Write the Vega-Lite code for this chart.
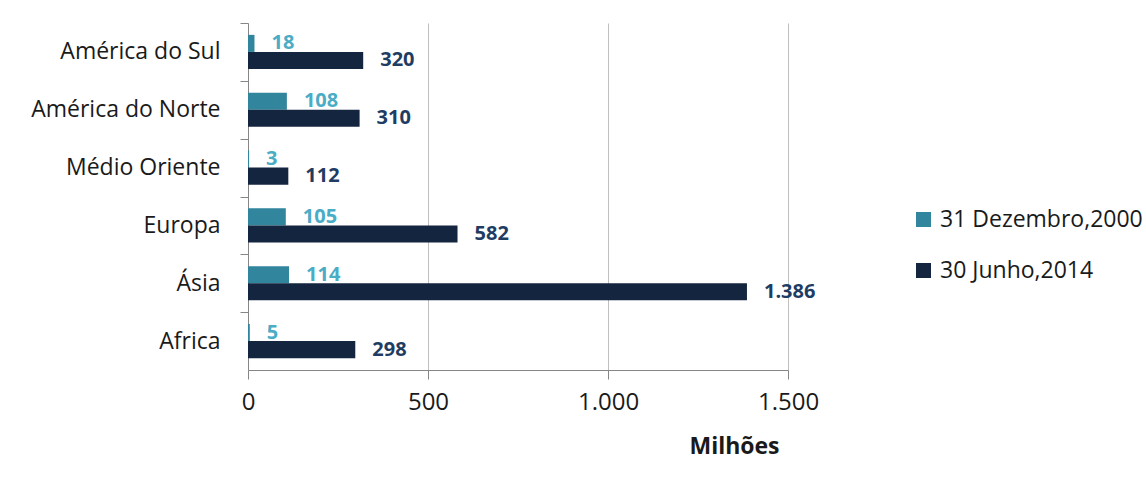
{
  "$schema": "https://vega.github.io/schema/vega-lite/v6.json",
  "width": 540,
  "height": 347,
  "autosize": {"type": "none"},
  "padding": {"left": 248, "top": 23, "right": 358, "bottom": 122},
  "background": "white",
  "config": {
    "locale": {"number": {"decimal": ",", "thousands": ".", "grouping": [3], "currency": ["", ""]}},
    "view": {"stroke": null},
    "font": "Open Sans"
  },
  "data": {
    "values": [
      {"regiao": "América do Sul", "periodo": "31 Dezembro,2000", "valor": 18},
      {"regiao": "América do Sul", "periodo": "30 Junho,2014", "valor": 320},
      {"regiao": "América do Norte", "periodo": "31 Dezembro,2000", "valor": 108},
      {"regiao": "América do Norte", "periodo": "30 Junho,2014", "valor": 310},
      {"regiao": "Médio Oriente", "periodo": "31 Dezembro,2000", "valor": 3},
      {"regiao": "Médio Oriente", "periodo": "30 Junho,2014", "valor": 112},
      {"regiao": "Europa", "periodo": "31 Dezembro,2000", "valor": 105},
      {"regiao": "Europa", "periodo": "30 Junho,2014", "valor": 582},
      {"regiao": "Ásia", "periodo": "31 Dezembro,2000", "valor": 114},
      {"regiao": "Ásia", "periodo": "30 Junho,2014", "valor": 1386},
      {"regiao": "Africa", "periodo": "31 Dezembro,2000", "valor": 5},
      {"regiao": "Africa", "periodo": "30 Junho,2014", "valor": 298}
    ]
  },
  "encoding": {
    "y": {
      "field": "regiao",
      "type": "nominal",
      "sort": ["América do Sul", "América do Norte", "Médio Oriente", "Europa", "Ásia", "Africa"],
      "scale": {"paddingInner": 0.41, "paddingOuter": 0.205},
      "axis": {
        "title": null,
        "domainColor": "#868686",
        "tickColor": "#868686",
        "tickSize": 8,
        "tickOffset": -28.9,
        "labelOffset": 28.9,
        "labelPadding": 20,
        "labelFontSize": 23,
        "labelColor": "#1a1a1a",
        "labelFont": "Open Sans",
        "labelLimit": 0
      }
    },
    "yOffset": {
      "field": "periodo",
      "type": "nominal",
      "sort": ["31 Dezembro,2000", "30 Junho,2014"]
    },
    "x": {
      "field": "valor",
      "type": "quantitative",
      "scale": {"domain": [0, 1500], "nice": false},
      "axis": {
        "values": [0, 500, 1000, 1500],
        "format": ",d",
        "grid": true,
        "gridColor": "#BFBFBF",
        "domainColor": "#868686",
        "tickColor": "#868686",
        "tickSize": 9,
        "labelFlush": false,
        "labelPadding": 11,
        "labelFontSize": 24,
        "labelColor": "#1a1a1a",
        "labelFont": "Open Sans",
        "title": "Milhões",
        "titleFont": "Open Sans",
        "titleFontSize": 23,
        "titleFontWeight": "bold",
        "titleColor": "#1a1a1a",
        "titleX": 486,
        "titleY": 76,
        "titleBaseline": "middle",
        "titleAlign": "center"
      }
    }
  },
  "layer": [
    {
      "mark": {"type": "bar"},
      "encoding": {
        "color": {
          "field": "periodo",
          "type": "nominal",
          "sort": ["31 Dezembro,2000", "30 Junho,2014"],
          "scale": {"domain": ["31 Dezembro,2000", "30 Junho,2014"], "range": ["#31859C", "#14253F"]},
          "legend": {
            "title": null,
            "orient": "none",
            "legendX": 664,
            "legendY": 185,
            "symbolType": "square",
            "symbolSize": 225,
            "symbolStrokeWidth": 0,
            "labelFontSize": 23,
            "labelFont": "Open Sans",
            "labelColor": "#1a1a1a",
            "labelOffset": 5,
            "labelLimit": 0,
            "rowPadding": 27
          }
        }
      }
    },
    {
      "mark": {"type": "text", "align": "left", "baseline": "middle", "dx": 17, "fontSize": 20, "fontWeight": "bold", "font": "Open Sans"},
      "encoding": {
        "text": {"field": "valor", "type": "quantitative", "format": ",d"},
        "color": {
          "field": "periodo",
          "type": "nominal",
          "scale": {"domain": ["31 Dezembro,2000", "30 Junho,2014"], "range": ["#4BACC6", "#1F3D63"]},
          "legend": null
        }
      }
    }
  ],
  "resolve": {"scale": {"color": "independent"}}
}
